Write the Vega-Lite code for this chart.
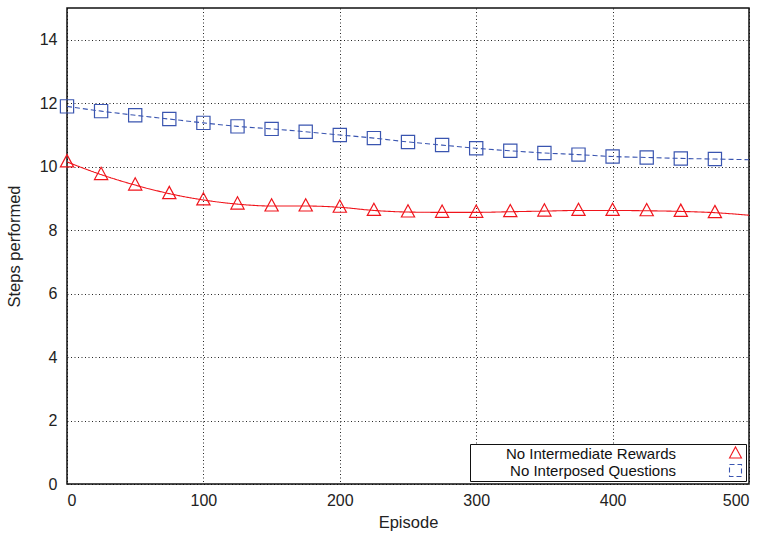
{
  "$schema": "https://vega.github.io/schema/vega-lite/v6.json",
  "autosize": {"type": "none"},
  "padding": {"left": 67, "top": 8, "right": 16, "bottom": 49},
  "width": 682,
  "height": 476,
  "background": "white",
  "config": {
    "font": "Liberation Sans",
    "view": {"stroke": "#111", "strokeWidth": 1.5},
    "axis": {
      "labelFont": "Liberation Sans",
      "titleFont": "Liberation Sans",
      "labelFontSize": 16,
      "titleFontSize": 16.5,
      "titleFontWeight": "normal",
      "labelColor": "#222",
      "titleColor": "#222",
      "domain": false,
      "grid": true,
      "gridColor": "#000",
      "gridDash": [1, 2.5],
      "gridOpacity": 0.85,
      "gridWidth": 1,
      "ticks": false
    },
    "legend": {"labelFont": "Liberation Sans"}
  },
  "data": {
    "values": [
      {"episode": 0, "steps": 10.15, "series": "No Intermediate Rewards"},
      {"episode": 25, "steps": 9.75, "series": "No Intermediate Rewards"},
      {"episode": 50, "steps": 9.42, "series": "No Intermediate Rewards"},
      {"episode": 75, "steps": 9.15, "series": "No Intermediate Rewards"},
      {"episode": 100, "steps": 8.95, "series": "No Intermediate Rewards"},
      {"episode": 125, "steps": 8.82, "series": "No Intermediate Rewards"},
      {"episode": 150, "steps": 8.76, "series": "No Intermediate Rewards"},
      {"episode": 175, "steps": 8.76, "series": "No Intermediate Rewards"},
      {"episode": 200, "steps": 8.72, "series": "No Intermediate Rewards"},
      {"episode": 225, "steps": 8.62, "series": "No Intermediate Rewards"},
      {"episode": 250, "steps": 8.57, "series": "No Intermediate Rewards"},
      {"episode": 275, "steps": 8.56, "series": "No Intermediate Rewards"},
      {"episode": 300, "steps": 8.56, "series": "No Intermediate Rewards"},
      {"episode": 325, "steps": 8.58, "series": "No Intermediate Rewards"},
      {"episode": 350, "steps": 8.6, "series": "No Intermediate Rewards"},
      {"episode": 375, "steps": 8.62, "series": "No Intermediate Rewards"},
      {"episode": 400, "steps": 8.62, "series": "No Intermediate Rewards"},
      {"episode": 425, "steps": 8.61, "series": "No Intermediate Rewards"},
      {"episode": 450, "steps": 8.59, "series": "No Intermediate Rewards"},
      {"episode": 475, "steps": 8.55, "series": "No Intermediate Rewards"},
      {"episode": 500, "steps": 8.47, "series": "No Intermediate Rewards"},
      {"episode": 0, "steps": 11.9, "series": "No Interposed Questions"},
      {"episode": 25, "steps": 11.75, "series": "No Interposed Questions"},
      {"episode": 50, "steps": 11.62, "series": "No Interposed Questions"},
      {"episode": 75, "steps": 11.5, "series": "No Interposed Questions"},
      {"episode": 100, "steps": 11.38, "series": "No Interposed Questions"},
      {"episode": 125, "steps": 11.27, "series": "No Interposed Questions"},
      {"episode": 150, "steps": 11.19, "series": "No Interposed Questions"},
      {"episode": 175, "steps": 11.1, "series": "No Interposed Questions"},
      {"episode": 200, "steps": 11.0, "series": "No Interposed Questions"},
      {"episode": 225, "steps": 10.9, "series": "No Interposed Questions"},
      {"episode": 250, "steps": 10.78, "series": "No Interposed Questions"},
      {"episode": 275, "steps": 10.68, "series": "No Interposed Questions"},
      {"episode": 300, "steps": 10.58, "series": "No Interposed Questions"},
      {"episode": 325, "steps": 10.5, "series": "No Interposed Questions"},
      {"episode": 350, "steps": 10.43, "series": "No Interposed Questions"},
      {"episode": 375, "steps": 10.38, "series": "No Interposed Questions"},
      {"episode": 400, "steps": 10.32, "series": "No Interposed Questions"},
      {"episode": 425, "steps": 10.29, "series": "No Interposed Questions"},
      {"episode": 450, "steps": 10.26, "series": "No Interposed Questions"},
      {"episode": 475, "steps": 10.24, "series": "No Interposed Questions"},
      {"episode": 500, "steps": 10.22, "series": "No Interposed Questions"}
    ]
  },
  "encoding": {
    "x": {
      "field": "episode", "type": "quantitative",
      "scale": {"domain": [0, 500], "nice": false, "zero": false},
      "axis": {"title": "Episode", "values": [0, 100, 200, 300, 400, 500], "labelPadding": 8, "titlePadding": 6}
    },
    "y": {
      "field": "steps", "type": "quantitative",
      "scale": {"domain": [0, 15], "nice": false},
      "axis": {"title": "Steps performed", "values": [0, 2, 4, 6, 8, 10, 12, 14], "labelPadding": 10, "titlePadding": 17}
    },
    "color": {
      "field": "series", "type": "nominal",
      "scale": {"domain": ["No Intermediate Rewards", "No Interposed Questions"], "range": ["#f0151c", "#3a55b0"]},
      "legend": {
        "title": null,
        "orient": "bottom-right",
        "offset": 3,
        "strokeColor": "#111",
        "fillColor": "white",
        "padding": 2,
        "labelFontSize": 15,
        "labelColor": "#111",
        "labelAlign": "right",
        "labelLimit": 400,
        "labelOffset": -67,
        "symbolSize": 144,
        "symbolOffset": 256,
        "symbolStrokeWidth": 1.1,
        "rowPadding": 0
      }
    }
  },
  "layer": [
    {
      "mark": {"type": "line", "interpolate": "monotone", "strokeWidth": 1.1},
      "encoding": {
        "strokeDash": {
          "field": "series", "type": "nominal", "legend": null,
          "scale": {"domain": ["No Intermediate Rewards", "No Interposed Questions"], "range": [[1, 0], [5, 3]]}
        }
      }
    },
    {
      "transform": [{"filter": "datum.episode < 500"}],
      "mark": {"type": "point", "filled": false, "strokeWidth": 1.2, "opacity": 1},
      "encoding": {
        "shape": {
          "field": "series", "type": "nominal", "legend": null,
          "scale": {"domain": ["No Intermediate Rewards", "No Interposed Questions"], "range": ["M0,-1.1L1,0.75H-1Z", "square"]}
        },
        "size": {"value": 175}
      }
    }
  ]
}
